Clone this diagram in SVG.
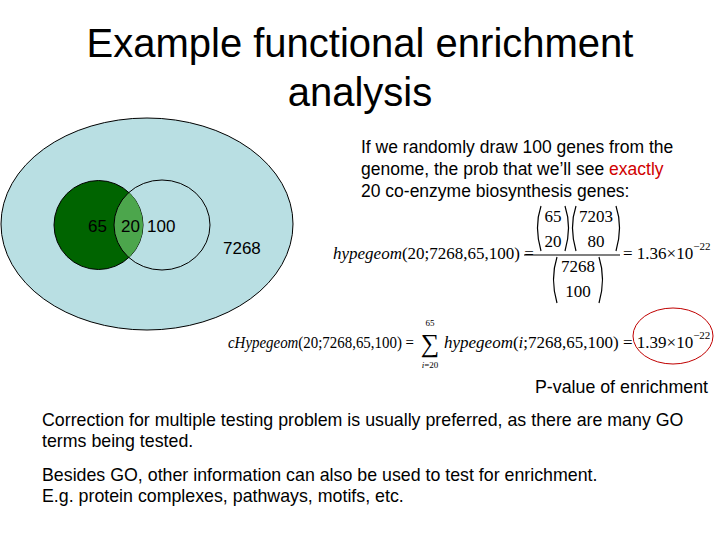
<svg xmlns="http://www.w3.org/2000/svg" width="720" height="540" viewBox="0 0 720 540">
<style>
.s{font-family:"Liberation Sans",Arial,sans-serif;fill:#000}
.m{font-family:"Liberation Serif","Times New Roman",serif;fill:#000}
.i{font-style:italic}
.p{fill:none;stroke:#000;stroke-width:1.2}
</style>
<rect width="720" height="540" fill="#fff"/>
<text class="s" x="360" y="57" style="font-size:40px" text-anchor="middle">Example functional enrichment</text>
<text class="s" x="360" y="106" style="font-size:40px" text-anchor="middle">analysis</text>
<g id="venn">
<ellipse cx="147" cy="224" rx="146" ry="106" fill="#b9dfe3" stroke="#000" stroke-width="1"/>
<circle cx="98.5" cy="225" r="44.5" fill="#006400" stroke="#000" stroke-width="1"/>
<clipPath id="c"><circle cx="98.5" cy="225" r="44.5"/></clipPath>
<ellipse cx="162" cy="225" rx="48" ry="45" fill="#4ca64c" clip-path="url(#c)"/>
<ellipse cx="162" cy="225" rx="48" ry="45" fill="none" stroke="#000" stroke-width="1"/>
<text class="s" x="88" y="232" style="font-size:17px">65</text>
<text class="s" x="121" y="232" style="font-size:17px">20</text>
<text class="s" x="147" y="232" style="font-size:17px">100</text>
<text class="s" x="223" y="254" style="font-size:17px">7268</text>
</g>
<g id="desc" class="s" style="font-size:17.5px">
<text x="361" y="153">If we randomly draw 100 genes from the</text>
<text x="361" y="175">genome, the prob that we’ll see <tspan fill="#d00000">exactly</tspan></text>
<text x="361" y="197">20 co-enzyme biosynthesis genes:</text>
</g>
<g id="f1" class="m" style="font-size:17px">
<text x="333" y="259"><tspan class="i">hypegeom</tspan>(20;7268,65,100) =</text>
<text x="553" y="222" text-anchor="middle">65</text>
<text x="553" y="247" text-anchor="middle">20</text>
<text x="596" y="222" text-anchor="middle">7203</text>
<text x="596" y="247" text-anchor="middle">80</text>
<path class="p" d="M541 206 q-7 21 0 45 M565 206 q7 21 0 45 M576 206 q-7 21 0 45 M616 206 q7 21 0 45"/>
<line x1="524" y1="255" x2="620" y2="255" stroke="#000" stroke-width="1.2"/>
<text x="578" y="272" text-anchor="middle">7268</text>
<text x="578" y="297" text-anchor="middle">100</text>
<path class="p" d="M557 257 q-7 22 0 46 M599 257 q7 22 0 46"/>
<text x="623" y="259">= 1.36×10<tspan style="font-size:11px" dy="-9">−22</tspan></text>
</g>
<g id="f2" class="m" style="font-size:17px">
<text x="228" y="348" textLength="186" lengthAdjust="spacingAndGlyphs"><tspan class="i">cHypegeom</tspan>(20;7268,65,100) =</text>
<text x="430" y="326" style="font-size:9px" text-anchor="middle">65</text>
<text x="430" y="352" style="font-size:26px" text-anchor="middle">∑</text>
<text x="430" y="368" style="font-size:9px" text-anchor="middle"><tspan class="i">i</tspan>=20</text>
<text x="444" y="348"><tspan class="i">hypegeom</tspan>(<tspan class="i">i</tspan>;7268,65,100) = 1.39×10<tspan style="font-size:11px" dy="-9">−22</tspan></text>
<ellipse cx="673" cy="336" rx="40" ry="28" fill="none" stroke="#c00000" stroke-width="1"/>
</g>
<g class="s" style="font-size:17.8px">
<text x="535" y="393">P-value of enrichment</text>
<text x="42" y="426">Correction for multiple testing problem is usually preferred, as there are many GO</text>
<text x="42" y="447">terms being tested.</text>
<text x="42" y="481">Besides GO, other information can also be used to test for enrichment.</text>
<text x="42" y="502">E.g. protein complexes, pathways, motifs, etc.</text>
</g>
</svg>
